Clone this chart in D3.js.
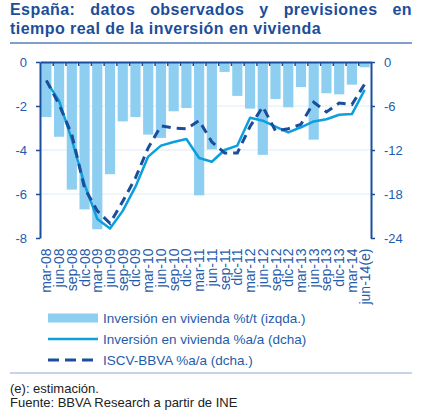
<!DOCTYPE html>
<html>
<head>
<meta charset="utf-8">
<script src="https://cdn.jsdelivr.net/npm/d3@7"></script>
<style>
  body { margin: 0; background: #fff; }
  text { font-family: "Liberation Sans", Arial, sans-serif; }
</style>
</head>
<body>
<div id="chart"></div>
<script>
// quarters, mar-08 .. jun-14 (estimate)
var categories = ["mar-08","jun-08","sep-08","dic-08","mar-09","jun-09","sep-09","dic-09",
  "mar-10","jun-10","sep-10","dic-10","mar-11","jun-11","sep-11","dic-11",
  "mar-12","jun-12","sep-12","dic-12","mar-13","jun-13","sep-13","dic-13","mar-14","jun-14(e)"];

// Inversión en vivienda %t/t (left axis)
var qoq = [-2.5,-3.4,-5.8,-6.7,-7.6,-5.1,-2.7,-2.5,-3.3,-3.45,-2.24,-2.09,-6.06,-3.97,
  -0.45,-1.54,-2.12,-4.22,-1.68,-2.06,-1.14,-3.53,-1.42,-1.47,-1.03,-0.24];

// Inversión en vivienda %a/a (right axis)
var yoy = [-2.6,-5.3,-10.6,-16.7,-21.4,-22.7,-20.3,-17.0,-12.9,-11.4,-10.9,-10.5,-13.1,-13.6,
  -12.0,-11.4,-7.6,-8.0,-8.8,-9.6,-8.9,-8.1,-7.8,-7.2,-7.1,-3.8];

// ISCV-BBVA %a/a (right axis)
var iscv = [-2.5,-5.8,-9.9,-17.2,-20.3,-22.0,-19.0,-15.8,-11.7,-8.7,-9.0,-9.1,-8.0,-10.9,
  -12.4,-12.4,-8.8,-6.1,-9.4,-9.1,-8.5,-5.5,-6.8,-5.6,-5.8,-3.0];

var leftTicks = [0,-2,-4,-6,-8];
var rightTicks = [0,-6,-12,-18,-24];

var legendLabels = ["Inversión en vivienda %t/t (izqda.)",
  "Inversión en vivienda %a/a (dcha)",
  "ISCV-BBVA %a/a (dcha.)"];

var titleLines = ["España: datos observados y previsiones en",
  "tiempo real de la inversión en vivienda"];
var notes = ["(e): estimación.", "Fuente: BBVA Research a partir de INE"];

var W = 423, H = 416;
var plot = { left: 40, right: 371, top: 62, bottom: 238 };
var dark = "#1a4e9c", mid = "#1f5cab", barCol = "#8ecff1", lineCol = "#0b9fdd";

var svg = d3.select("#chart").append("svg").attr("width", W).attr("height", H)
  .style("background", "#fff");

// title, first line justified
var t1 = svg.append("g");
var words = titleLines[0].split(" ");
var ws = words.map(w => t1.append("text").attr("y", 15).attr("font-size", 16)
  .attr("letter-spacing", 0.45).attr("font-weight", "bold").attr("fill", dark).text(w));
var widths = ws.map(s => s.node().getComputedTextLength());
var gap = (402 - d3.sum(widths)) / (words.length - 1);
var cx = 10;
ws.forEach((s, i) => { s.attr("x", cx); cx += widths[i] + gap; });
svg.append("text").attr("x", 10).attr("y", 34).attr("font-size", 16)
  .attr("letter-spacing", 0.45)
  .attr("font-weight", "bold").attr("fill", dark).text(titleLines[1]);
svg.append("line").attr("x1", 10).attr("x2", 412).attr("y1", 43).attr("y2", 43)
  .attr("stroke", "#5580bb").attr("stroke-width", 1.5);

// scales
var x = d3.scaleBand().domain(categories).range([plot.left, plot.right])
  .paddingInner(0.2).paddingOuter(0.1);
var xEdge = d3.scaleLinear().domain([0, categories.length]).range([plot.left, plot.right]);
var yL = d3.scaleLinear().domain([-8, 0]).range([plot.bottom, plot.top]);
var yR = d3.scaleLinear().domain([-24, 0]).range([plot.bottom, plot.top]);

// grid
svg.append("g").selectAll("line").data(leftTicks.slice(1, 4)).enter().append("line")
  .attr("x1", plot.left).attr("x2", plot.right)
  .attr("y1", d => yL(d)).attr("y2", d => yL(d))
  .attr("stroke", "#dcebf8").attr("stroke-width", 1);

// bars
svg.append("g").selectAll("rect").data(qoq).enter().append("rect")
  .attr("x", (d, i) => x(categories[i]))
  .attr("width", x.bandwidth())
  .attr("y", yL(0))
  .attr("height", d => yL(d) - yL(0))
  .attr("fill", barCol);

// lines
var lineGen = d3.line().x((d, i) => x(categories[i]) + x.bandwidth() / 2).y(d => yR(d));
svg.append("path").datum(yoy).attr("d", lineGen).attr("fill", "none")
  .attr("stroke", lineCol).attr("stroke-width", 2.5).attr("stroke-linejoin", "round");
svg.append("path").datum(iscv).attr("d", lineGen).attr("fill", "none")
  .attr("stroke", dark).attr("stroke-width", 3).attr("stroke-dasharray", "9,6");

// axes
function styleAxis(g) {
  g.select(".domain").attr("stroke", dark).attr("stroke-width", 2);
  g.selectAll(".tick line").attr("stroke", dark).attr("stroke-width", 1.5);
  g.selectAll(".tick text").attr("fill", mid).attr("font-size", 13)
    .attr("font-family", "Liberation Sans, Arial, sans-serif");
}
svg.append("g").attr("transform", `translate(${plot.left},0)`)
  .call(d3.axisLeft(yL).tickValues(leftTicks).tickSize(4).tickSizeOuter(0).tickPadding(9)
    .tickFormat(d => String(d)))
  .call(styleAxis);
svg.append("g").attr("transform", `translate(${plot.right},0)`)
  .call(d3.axisRight(yR).tickValues(rightTicks).tickSize(4).tickSizeOuter(0).tickPadding(9)
    .tickFormat(d => String(d)))
  .call(styleAxis);
svg.append("g").attr("transform", `translate(0,${plot.top})`)
  .call(d3.axisTop(xEdge).tickValues(d3.range(1, categories.length)).tickSize(-4)
    .tickSizeOuter(0).tickFormat(""))
  .call(styleAxis);

// category labels (rotated)
svg.append("g").selectAll("text").data(categories).enter().append("text")
  .attr("transform", d => `translate(${x(d) + x.bandwidth() / 2 + 5},248.5) rotate(-90)`)
  .attr("text-anchor", "end").attr("font-size", 14).attr("fill", mid)
  .text(d => d);

// legend
var leg = svg.append("g");
var ly = [318, 339, 360];
leg.append("rect").attr("x", 48).attr("y", ly[0] - 4.5).attr("width", 50).attr("height", 9)
  .attr("fill", barCol);
leg.append("line").attr("x1", 48).attr("x2", 98).attr("y1", ly[1]).attr("y2", ly[1])
  .attr("stroke", lineCol).attr("stroke-width", 2.5);
leg.append("line").attr("x1", 48).attr("x2", 98).attr("y1", ly[2]).attr("y2", ly[2])
  .attr("stroke", dark).attr("stroke-width", 3).attr("stroke-dasharray", "11,6");
leg.selectAll("text").data(legendLabels).enter().append("text")
  .attr("x", 103).attr("y", (d, i) => ly[i] + 4.5)
  .attr("font-size", 13.5).attr("fill", mid).text(d => d);

svg.append("line").attr("x1", 10).attr("x2", 412).attr("y1", 373).attr("y2", 373)
  .attr("stroke", "#8ea9cf").attr("stroke-width", 1);

svg.append("g").selectAll("text").data(notes).enter().append("text")
  .attr("x", 10).attr("y", (d, i) => 393 + i * 13.5)
  .attr("font-size", 13).attr("fill", "#222").text(d => d);
</script>
</body>
</html>
